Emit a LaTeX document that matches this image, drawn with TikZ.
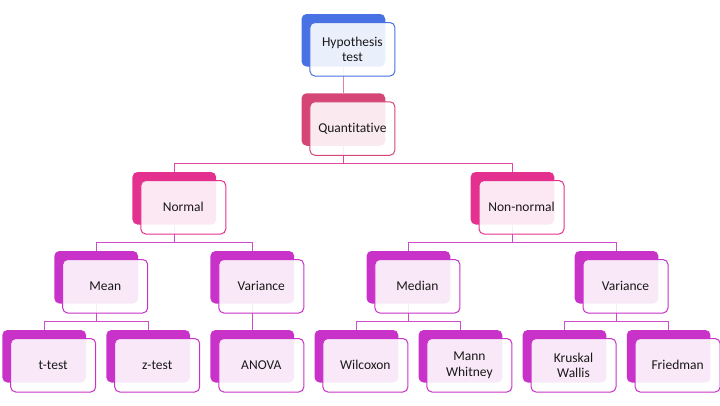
\documentclass[tikz,border=0pt]{standalone}
\usepackage{fontspec}
\setmainfont[Ligatures=NoCommon]{Carlito}
\usetikzlibrary{backgrounds}
\definecolor{cblue}{RGB}{72,114,228}
\definecolor{ccrim}{RGB}{213,70,118}
\definecolor{cpink}{RGB}{228,48,143}
\definecolor{cpurp}{RGB}{200,50,200}
\definecolor{lcrim}{RGB}{222,130,162}
\definecolor{lpink}{RGB}{228,70,160}
\definecolor{lpurp}{RGB}{205,75,205}
\tikzset{
  backbox/.style={rectangle, rounded corners=5pt, minimum width=83.7pt, minimum height=52.5pt, inner sep=0pt, fill=#1, draw=none},
  frontbox/.style={rectangle, rounded corners=5pt, minimum width=85pt, minimum height=53.5pt, inner sep=2pt, draw=#1, line width=1pt, fill=white, fill opacity=0.89, text opacity=1, text=black!90, align=center, font=\fontsize{13.5}{15.5}\selectfont},
  conn/.style={draw=#1, line width=1pt}
}
\begin{document}
\begin{tikzpicture}[x=1pt,y=-1pt]
\useasboundingbox (0,0) rectangle (720,405);
\def\ya{40.25}\def\yb{119.5}\def\yc{198.25}\def\yd{277.25}\def\ye{356.25}
% back boxes
\node[backbox=cblue] (b0) at (343.4,\ya) {};
\node[backbox=ccrim] (b1) at (343.4,\yb) {};
\node[backbox=cpink] (b2a) at (174.3,\yc) {};
\node[backbox=cpink] (b2b) at (512.5,\yc) {};
\node[backbox=cpurp] (b3a) at (96.2,\yd) {};
\node[backbox=cpurp] (b3b) at (252.3,\yd) {};
\node[backbox=cpurp] (b3c) at (408.4,\yd) {};
\node[backbox=cpurp] (b3d) at (616.5,\yd) {};
\node[backbox=cpurp] (b4a) at (44.2,\ye) {};
\node[backbox=cpurp] (b4b) at (148.2,\ye) {};
\node[backbox=cpurp] (b4c) at (252.3,\ye) {};
\node[backbox=cpurp] (b4d) at (356.4,\ye) {};
\node[backbox=cpurp] (b4e) at (460.4,\ye) {};
\node[backbox=cpurp] (b4f) at (564.5,\ye) {};
\node[backbox=cpurp] (b4g) at (668.6,\ye) {};
% front boxes
\node[frontbox=cblue] (f0) at ([shift={(9,9)}]b0.center) {Hypothesis\\test};
\node[frontbox=ccrim] (f1) at ([shift={(9,9)}]b1.center) {Quantitative};
\node[frontbox=cpink] (f2a) at ([shift={(9,9)}]b2a.center) {Normal};
\node[frontbox=cpink] (f2b) at ([shift={(9,9)}]b2b.center) {Non-normal};
\node[frontbox=cpurp] (f3a) at ([shift={(9,9)}]b3a.center) {Mean};
\node[frontbox=cpurp] (f3b) at ([shift={(9,9)}]b3b.center) {Variance};
\node[frontbox=cpurp] (f3c) at ([shift={(9,9)}]b3c.center) {Median};
\node[frontbox=cpurp] (f3d) at ([shift={(9,9)}]b3d.center) {Variance};
\node[frontbox=cpurp] (f4a) at ([shift={(9,9)}]b4a.center) {t-test};
\node[frontbox=cpurp] (f4b) at ([shift={(9,9)}]b4b.center) {z-test};
\node[frontbox=cpurp] (f4c) at ([shift={(9,9)}]b4c.center) {ANOVA};
\node[frontbox=cpurp] (f4d) at ([shift={(9,9)}]b4d.center) {Wilcoxon};
\node[frontbox=cpurp] (f4e) at ([shift={(9,9)}]b4e.center) {Mann\\Whitney};
\node[frontbox=cpurp] (f4f) at ([shift={(9,9)}]b4f.center) {Kruskal\\Wallis};
\node[frontbox=cpurp] (f4g) at ([shift={(9,9)}]b4g.center) {Friedman};
% connectors
\begin{pgfonlayer}{background}
\draw[conn=lcrim] (b0.south) -- (b1.north);
\draw[conn=lpink] (b1.south) -- ++(0,17.5) -| (b2a.north);
\draw[conn=lpink] (b1.south) -- ++(0,17.5) -| (b2b.north);
\draw[conn=lpurp] (b2a.south) -- ++(0,17.5) -| (b3a.north);
\draw[conn=lpurp] (b2a.south) -- ++(0,17.5) -| (b3b.north);
\draw[conn=lpurp] (b2b.south) -- ++(0,17.5) -| (b3c.north);
\draw[conn=lpurp] (b2b.south) -- ++(0,17.5) -| (b3d.north);
\draw[conn=lpurp] (b3a.south) -- ++(0,17.5) -| (b4a.north);
\draw[conn=lpurp] (b3a.south) -- ++(0,17.5) -| (b4b.north);
\draw[conn=lpurp] (b3b.south) -- (b4c.north);
\draw[conn=lpurp] (b3c.south) -- ++(0,17.5) -| (b4d.north);
\draw[conn=lpurp] (b3c.south) -- ++(0,17.5) -| (b4e.north);
\draw[conn=lpurp] (b3d.south) -- ++(0,17.5) -| (b4f.north);
\draw[conn=lpurp] (b3d.south) -- ++(0,17.5) -| (b4g.north);
\end{pgfonlayer}
\end{tikzpicture}
\end{document}
